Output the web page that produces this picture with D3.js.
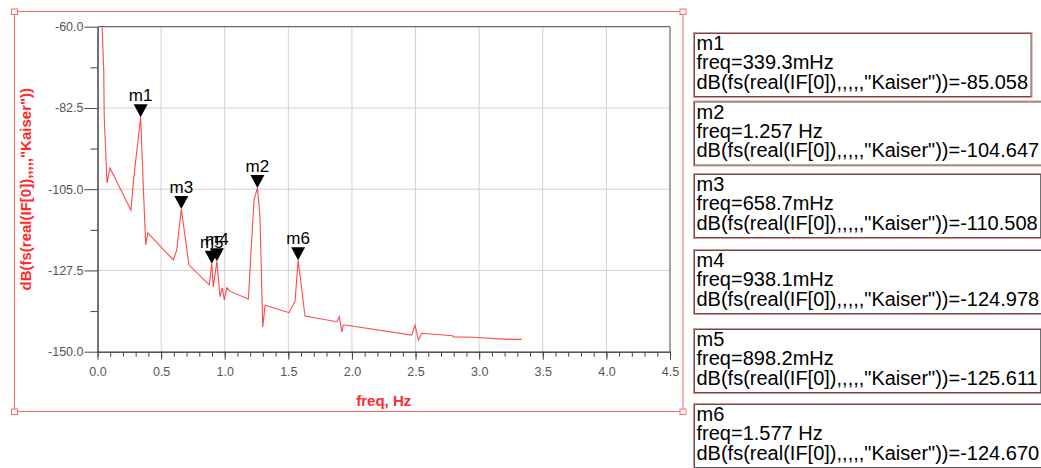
<!DOCTYPE html>
<html>
<head>
<meta charset="utf-8">
<script src="https://cdn.jsdelivr.net/npm/d3@7"></script>
<style>
  body { margin: 0; background: #fff; }
  svg { display: block; font-family: "Liberation Sans", Arial, sans-serif; }
  .axis path, .axis line { stroke: #444; }
  .axis text { fill: #555; font-size: 12.5px; font-family: "Liberation Sans", Arial, sans-serif; }
  .grid line { stroke: #d2d2d2; stroke-width: 1; }
  .axis-title { fill: #ff2a2a; font-weight: bold; font-size: 15px; }
  .marker-label { fill: #000; font-size: 17px; }
  .readout text { fill: #000; font-size: 20px; }
</style>
</head>
<body>
<svg id="chart" width="1041" height="468"></svg>
<script>
// Spectrum trace (freq in Hz, level in dB)
var freq = [0.036, 0.049, 0.053, 0.075, 0.098, 0.263, 0.283, 0.3393, 0.358, 0.379, 0.395,
  0.596, 0.623, 0.6587, 0.719, 0.879, 0.8982, 0.910, 0.9381, 0.963, 0.981, 0.997, 1.016,
  1.042, 1.186, 1.230, 1.257, 1.277, 1.299, 1.317, 1.506, 1.553, 1.577, 1.631, 1.881,
  1.901, 1.920, 1.932, 1.946, 2.470, 2.496, 2.522, 2.549, 2.790, 2.800, 2.954, 3.217, 3.335];
var level = [-60.0, -72.0, -85.0, -103.3, -99.1, -110.8, -102.5, -85.058, -102.5, -120.4, -117.1,
  -124.6, -121.8, -110.508, -126.0, -131.5, -125.611, -132.1, -124.978, -134.8, -132.3, -135.7, -132.3,
  -133.3, -135.4, -108.0, -104.647, -112.6, -143.2, -137.1, -139.2, -136.0, -124.670, -140.1, -141.7,
  -140.3, -144.5, -142.6, -142.6, -145.4, -142.6, -146.8, -144.9, -145.6, -145.9, -146.0, -146.6, -146.6];

// Markers
var markerName = ["m1", "m2", "m3", "m4", "m5", "m6"];
var markerFreq = [0.3393, 1.257, 0.6587, 0.9381, 0.8982, 1.577];
var markerLevel = [-85.058, -104.647, -110.508, -124.978, -125.611, -124.670];
var markerFreqText = ["339.3mHz", "1.257 Hz", "658.7mHz", "938.1mHz", "898.2mHz", "1.577 Hz"];
var markerLevelText = ["-85.058", "-104.647", "-110.508", "-124.978", "-125.611", "-124.670"];

// Axis ticks
var xTicks = [0, 0.5, 1.0, 1.5, 2.0, 2.5, 3.0, 3.5, 4.0, 4.5];
var yTicks = [-60, -82.5, -105, -127.5, -150];
var yMinor = [-71.25, -93.75, -116.25, -138.75];

var traceName = 'dB(fs(real(IF[0]),,,,,"Kaiser"))';

var svg = d3.select("#chart");

// plot box
var plot = { left: 97.5, right: 670, top: 26.7, bottom: 351.7 };

var x = d3.scaleLinear().domain([0, 4.5]).range([plot.left, plot.right]);
var y = d3.scaleLinear().domain([-150, -60]).range([plot.bottom, plot.top]);

// Outer selection frame with its corner handles
var frame = { x0: 14.5, y0: 11.5, x1: 683, y1: 411.5 };
svg.append("rect")
  .attr("x", frame.x0).attr("y", frame.y0)
  .attr("width", frame.x1 - frame.x0).attr("height", frame.y1 - frame.y0)
  .attr("fill", "none").attr("stroke", "#ff6a6a");
[[frame.x0, frame.y0], [frame.x1, frame.y0], [frame.x0, frame.y1], [frame.x1, frame.y1]]
  .forEach(function(c) {
    svg.append("rect")
      .attr("x", c[0] - 3).attr("y", c[1] - 2.5)
      .attr("width", 6).attr("height", 5.5)
      .attr("fill", "#fff").attr("stroke", "#ff6a6a");
  });

// Grid
var grid = svg.append("g").attr("class", "grid");
grid.selectAll(".gx")
  .data(xTicks.filter(function(d) { return d > 0 && d < 4.5; }))
  .enter().append("line")
  .attr("x1", function(d) { return x(d); }).attr("x2", function(d) { return x(d); })
  .attr("y1", plot.top).attr("y2", plot.bottom);
grid.selectAll(".gy")
  .data(yTicks.filter(function(d) { return d > -150 && d < -60; }))
  .enter().append("line")
  .attr("y1", function(d) { return y(d); }).attr("y2", function(d) { return y(d); })
  .attr("x1", plot.left).attr("x2", plot.right);

// Top and right border of the plot
svg.append("path")
  .attr("d", "M" + plot.left + "," + plot.top + "H" + plot.right + "V" + plot.bottom)
  .attr("fill", "none").attr("stroke", "#444");

// X axis: minor ticks every 0.1, labels every 0.5
svg.append("g").attr("class", "axis")
  .attr("transform", "translate(0," + plot.bottom + ")")
  .call(d3.axisBottom(x).tickValues(d3.range(0, 46).map(function(i) { return i / 10; }))
    .tickSize(5).tickSizeOuter(0).tickFormat(""));
svg.append("g").attr("class", "axis")
  .attr("transform", "translate(0," + plot.bottom + ")")
  .call(d3.axisBottom(x).tickValues(xTicks).tickSize(8).tickSizeOuter(0).tickPadding(7)
    .tickFormat(function(d) { return d.toFixed(1); }));

// Y axis
svg.append("g").attr("class", "axis")
  .attr("transform", "translate(" + plot.left + ",0)")
  .call(d3.axisLeft(y).tickValues(yMinor).tickSize(7).tickSizeOuter(0).tickFormat(""));
svg.append("g").attr("class", "axis")
  .attr("transform", "translate(" + plot.left + ",0)")
  .call(d3.axisLeft(y).tickValues(yTicks).tickSize(13).tickSizeOuter(0).tickPadding(1)
    .tickFormat(function(d) { return d.toFixed(1); }));

// Axis titles
svg.append("text").attr("class", "axis-title")
  .attr("transform", "translate(31," + (plot.top + plot.bottom) / 2 + ") rotate(-90)")
  .attr("text-anchor", "middle")
  .text(traceName);
svg.append("text").attr("class", "axis-title")
  .attr("x", (plot.left + plot.right) / 2).attr("y", 406)
  .attr("text-anchor", "middle")
  .text("freq, Hz");

// Trace
var line = d3.line()
  .x(function(d) { return x(freq[d]); })
  .y(function(d) { return y(level[d]); });
svg.append("path")
  .datum(d3.range(freq.length))
  .attr("d", line)
  .attr("fill", "none")
  .attr("stroke", "#ff4a4a")
  .attr("stroke-width", 1.1);

// Markers: downward triangle with its name on top
var markers = svg.append("g").selectAll("g")
  .data(markerName)
  .enter().append("g")
  .attr("transform", function(d, i) {
    return "translate(" + x(markerFreq[i]) + "," + y(markerLevel[i]) + ")";
  });
markers.append("path")
  .attr("d", "M0,0L-7,-13L7,-13Z")
  .attr("fill", "#000");
markers.append("text")
  .attr("class", "marker-label")
  .attr("y", -16)
  .attr("text-anchor", "middle")
  .text(function(d) { return d; });

// Marker readout boxes on the right
var boxTop = [32, 100.5, 173, 249, 328, 403];
var box = svg.append("g").attr("class", "readout").selectAll("g")
  .data(markerName)
  .enter().append("g")
  .attr("transform", function(d, i) { return "translate(693," + boxTop[i] + ")"; });

box.each(function(d, i) {
  var g = d3.select(this);
  var lines = [d, "freq=" + markerFreqText[i], traceName + "=" + markerLevelText[i]];
  var border = g.append("g");
  var widest = 0;
  lines.forEach(function(t, k) {
    var txt = g.append("text")
      .attr("x", 3.5)
      .attr("y", 18 + k * 19.3)
      .text(t);
    widest = Math.max(widest, txt.node().getComputedTextLength());
  });
  var w = widest + 7, h = 65;
  border.append("rect")
    .attr("x", 0.5).attr("y", 0.5).attr("width", w).attr("height", h)
    .attr("fill", "#fff").attr("stroke", "#f08a8a");
  border.append("rect")
    .attr("x", 1.5).attr("y", 1.5).attr("width", w - 2).attr("height", h - 2)
    .attr("fill", "none").attr("stroke", "#555");
});
</script>
</body>
</html>
